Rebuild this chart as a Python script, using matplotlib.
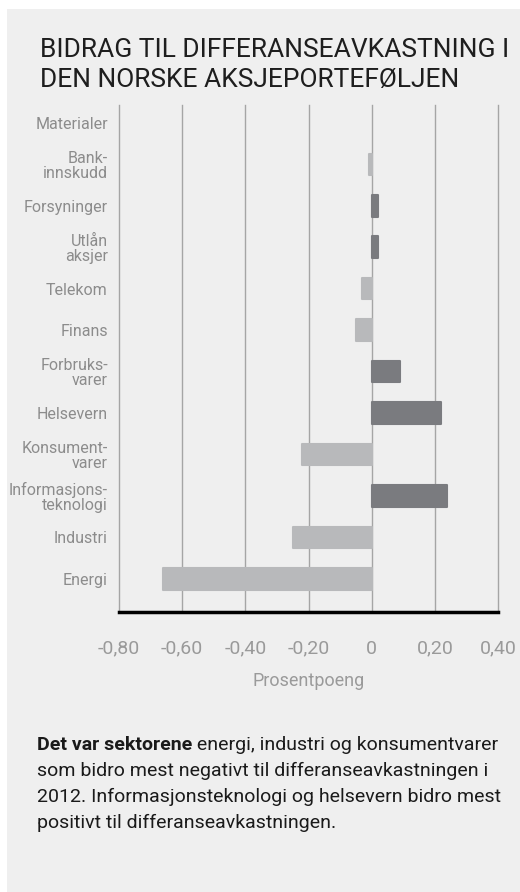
import matplotlib
matplotlib.use("Agg")
import matplotlib.pyplot as plt
from matplotlib.patches import Rectangle

# Data (top to bottom)
sectors = ['Materialer', 'Bank-\ninnskudd', 'Forsyninger', 'Utlån\naksjer', 'Telekom',
           'Finans', 'Forbruks-\nvarer', 'Helsevern', 'Konsument-\nvarer',
           'Informasjons-\nteknologi', 'Industri', 'Energi']
values = [0.0, -0.01, 0.02, 0.02, -0.03, -0.05, 0.09, 0.22, -0.22, 0.24, -0.25, -0.66]
xticks = [-0.8, -0.6, -0.4, -0.2, 0.0, 0.2, 0.4]
xtick_labels = ['-0,80', '-0,60', '-0,40', '-0,20', '0', '0,20', '0,40']

title = 'BIDRAG TIL DIFFERANSEAVKASTNING I\nDEN NORSKE AKSJEPORTEFØLJEN'
note_bold = 'Det var sektorene'
note_rest = (' energi, industri og konsumentvarer\n'
             'som bidro mest negativt til differanseavkastningen i\n'
             '2012. Informasjonsteknologi og helsevern bidro mest\n'
             'positivt til differanseavkastningen.')

plt.rcParams['font.family'] = ['Roboto', 'DejaVu Sans']

W, H = 520, 892
fig = plt.figure(figsize=(W / 100, H / 100), dpi=100)
fig.patch.set_facecolor('white')

# light gray panel
fig.patches.append(Rectangle((7 / W, 0), 1 - 7 / W, 1 - 9 / H, transform=fig.transFigure,
                             facecolor='#efefef', edgecolor='none', zorder=-5))

ax = fig.add_axes([119 / W, 1 - 612 / H, (498 - 119) / W, (612 - 105) / H])
ax.set_facecolor('none')
ax.set_zorder(2)

pos_color = '#7a7b7f'
neg_color = '#b8b9bb'
colors = [pos_color if v > 0 else neg_color for v in values]
edges = [c if v != 0 else 'none' for c, v in zip(colors, values)]
y = list(range(len(sectors)))
ax.barh(y, values, height=0.52, color=colors, edgecolor=edges, linewidth=1.5,
        joinstyle='round', zorder=3)

# vertical gridlines, including both outer edges
for t in xticks:
    ax.axvline(t, color='#a5a5a5', linewidth=1.0, zorder=1, clip_on=False)

ax.set_xlim(-0.8, 0.4)
ax.set_ylim(11.8, -0.43)
ax.set_xticks(xticks)
ax.set_xticklabels(xtick_labels, fontsize=14, color='#9a9a9a')
ax.set_yticks(y)
ax.set_yticklabels(sectors, fontsize=11.5, color='#8c8c8c', linespacing=1.0)
ax.tick_params(axis='x', length=0, pad=20)
ax.tick_params(axis='y', length=0, pad=8)
for s in ['top', 'left', 'right']:
    ax.spines[s].set_visible(False)
ax.spines['bottom'].set_color('black')
ax.spines['bottom'].set_linewidth(2.5)
ax.spines['bottom'].set_zorder(5)

ax.set_xlabel('Prosentpoeng', fontsize=13, color='#9a9a9a', labelpad=10)

fig.text(40 / W, 1 - 65 / H, title, fontsize=19, color='#1e1e1e',
         va='center', ha='left', linespacing=1.3)

# note with bold lead-in
fs = 14
x0, y0 = 37 / W, 1 - 745 / H
tb = fig.text(x0, y0, note_bold, fontsize=fs, fontweight='bold', color='#1a1a1a',
              va='center', ha='left')
fig.canvas.draw()
bb = tb.get_window_extent()
lines = note_rest.split('\n')
fig.text(bb.x1 / W, y0, lines[0], fontsize=fs, color='#1a1a1a', va='center', ha='left')
for i, ln in enumerate(lines[1:], start=1):
    fig.text(x0, y0 - i * 26 / H, ln, fontsize=fs, color='#1a1a1a', va='center', ha='left')

fig.savefig('out.png', dpi=100, facecolor=fig.get_facecolor())
